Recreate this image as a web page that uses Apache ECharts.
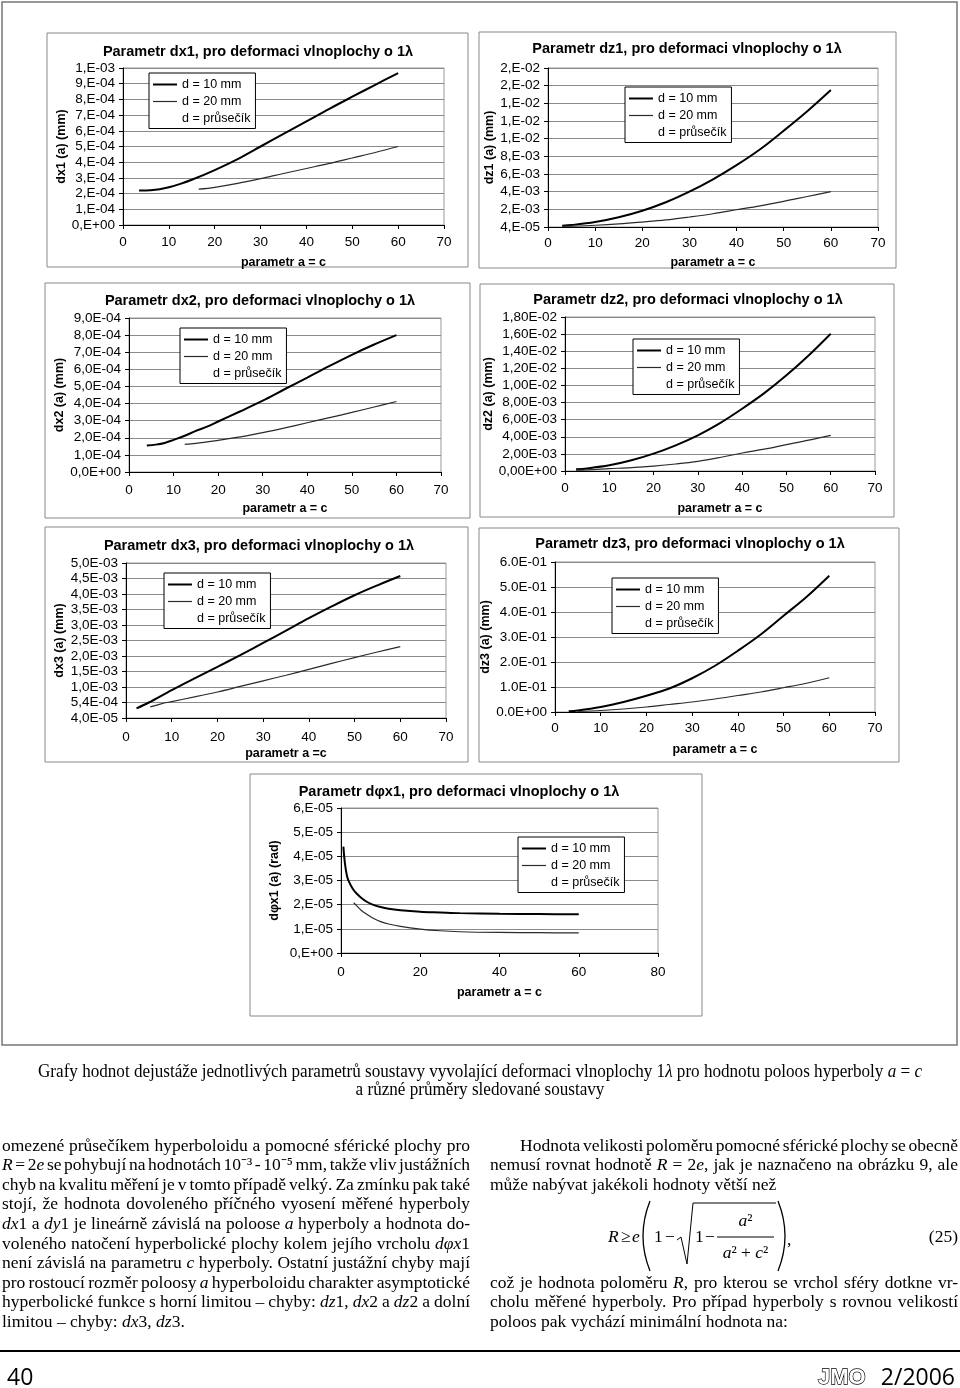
<!DOCTYPE html>
<html><head><meta charset="utf-8">
<script src="https://cdn.jsdelivr.net/npm/echarts@6/dist/echarts.min.js"></script>
<style>html,body{margin:0;padding:0;background:#fff}#c{width:960px;height:1388px}</style>
</head><body><div id="c"></div>
<script>
// ---------------- DATA ----------------
const seriesNames = ['d = 10 mm', 'd = 20 mm', 'd = průsečík'];
const chartTitles = [
  'Parametr dx1, pro deformaci vlnoplochy o 1λ',
  'Parametr dz1, pro deformaci vlnoplochy o 1λ',
  'Parametr dx2, pro deformaci vlnoplochy o 1λ',
  'Parametr dz2, pro deformaci vlnoplochy o 1λ',
  'Parametr dx3, pro deformaci vlnoplochy o 1λ',
  'Parametr dz3, pro deformaci vlnoplochy o 1λ',
  'Parametr dφx1, pro deformaci vlnoplochy o 1λ'
];
const yNames = ['dx1 (a) (mm)', 'dz1 (a) (mm)', 'dx2 (a) (mm)', 'dz2 (a) (mm)', 'dx3 (a) (mm)', 'dz3 (a) (mm)', 'dφx1 (a) (rad)'];
const xNames = ['parametr a = c', 'parametr a = c', 'parametr a = c', 'parametr a = c', 'parametr a =c', 'parametr a = c', 'parametr a = c'];
const xMax  = [70, 70, 70, 70, 70, 70, 80];
const xStep = [10, 10, 10, 10, 10, 10, 20];
const yMax  = [1e-3, 0.018, 9e-4, 0.018, 5e-3, 0.6, 6e-5];
const yStep = [1e-4, 0.002, 1e-4, 0.002, 5e-4, 0.1, 1e-5];

const yTicks_dx1 = ['1,E-03','9,E-04','8,E-04','7,E-04','6,E-04','5,E-04','4,E-04','3,E-04','2,E-04','1,E-04','0,E+00'];
const yTicks_dz1 = ['2,E-02','2,E-02','1,E-02','1,E-02','1,E-02','8,E-03','6,E-03','4,E-03','2,E-03','4,E-05'];
const yTicks_dx2 = ['9,0E-04','8,0E-04','7,0E-04','6,0E-04','5,0E-04','4,0E-04','3,0E-04','2,0E-04','1,0E-04','0,0E+00'];
const yTicks_dz2 = ['1,80E-02','1,60E-02','1,40E-02','1,20E-02','1,00E-02','8,00E-03','6,00E-03','4,00E-03','2,00E-03','0,00E+00'];
const yTicks_dx3 = ['5,0E-03','4,5E-03','4,0E-03','3,5E-03','3,0E-03','2,5E-03','2,0E-03','1,5E-03','1,0E-03','5,4E-04','4,0E-05'];
const yTicks_dz3 = ['6.0E-01','5.0E-01','4.0E-01','3.0E-01','2.0E-01','1.0E-01','0.0E+00'];
const yTicks_dfx1 = ['6,E-05','5,E-05','4,E-05','3,E-05','2,E-05','1,E-05','0,E+00'];

const dx1_d10 = [[3.5,2.2e-4],[6,2.22e-4],[8,2.28e-4],[10,2.4e-4],[12.5,2.62e-4],[15,2.88e-4],[20,3.5e-4],[25,4.2e-4],[30,5.0e-4],[35,5.8e-4],[40,6.6e-4],[45,7.4e-4],[50,8.17e-4],[55,8.93e-4],[60,9.68e-4]];
const dx1_d20 = [[16.5,2.28e-4],[20,2.4e-4],[25,2.65e-4],[30,2.95e-4],[35,3.28e-4],[40,3.6e-4],[45,3.92e-4],[50,4.27e-4],[55,4.62e-4],[60,5.0e-4]];
const dz1_d10 = [[3,1.5e-4],[5,2.2e-4],[10,5.6e-4],[15,1.1e-3],[20,1.84e-3],[25,2.8e-3],[30,4.0e-3],[35,5.4e-3],[40,7.0e-3],[45,8.8e-3],[50,10.9e-3],[55,13.1e-3],[60,15.5e-3]];
const dz1_d20 = [[3,0.8e-4],[5,1.0e-4],[10,2.0e-4],[15,3.5e-4],[20,5.6e-4],[25,8.0e-4],[30,1.13e-3],[35,1.5e-3],[40,1.95e-3],[45,2.4e-3],[50,2.9e-3],[55,3.45e-3],[60,4.0e-3]];
const dx2_d10 = [[4,1.55e-4],[6,1.6e-4],[8,1.7e-4],[10,1.88e-4],[12.5,2.12e-4],[15,2.4e-4],[17.5,2.65e-4],[20,2.95e-4],[25,3.55e-4],[30,4.17e-4],[35,4.85e-4],[40,5.52e-4],[45,6.2e-4],[50,6.85e-4],[55,7.45e-4],[60,8.0e-4]];
const dx2_d20 = [[12.5,1.62e-4],[15,1.67e-4],[20,1.85e-4],[25,2.05e-4],[30,2.3e-4],[35,2.58e-4],[40,2.88e-4],[45,3.18e-4],[50,3.48e-4],[55,3.8e-4],[60,4.12e-4]];
const dz2_d10 = [[2.5,2.0e-4],[5,3.0e-4],[10,6.6e-4],[15,1.25e-3],[20,2.03e-3],[25,3.0e-3],[30,4.17e-3],[35,5.6e-3],[40,7.28e-3],[45,9.1e-3],[50,11.18e-3],[55,13.5e-3],[60,16.05e-3]];
const dz2_d20 = [[2.5,1.0e-4],[5,1.3e-4],[10,2.7e-4],[15,4.0e-4],[20,5.8e-4],[25,8.2e-4],[30,1.13e-3],[35,1.58e-3],[40,2.1e-3],[45,2.55e-3],[50,3.08e-3],[55,3.6e-3],[60,4.17e-3]];
const dx3_d10 = [[2.3,3.1e-4],[5,5.0e-4],[10,9.0e-4],[15,1.28e-3],[20,1.65e-3],[25,2.03e-3],[30,2.42e-3],[35,2.82e-3],[40,3.22e-3],[45,3.6e-3],[50,3.96e-3],[55,4.28e-3],[60,4.58e-3]];
const dx3_d20 = [[5.3,3.6e-4],[7.5,4.5e-4],[10,5.3e-4],[15,6.8e-4],[20,8.4e-4],[25,1.02e-3],[30,1.2e-3],[35,1.38e-3],[40,1.57e-3],[45,1.76e-3],[50,1.95e-3],[55,2.13e-3],[60,2.3e-3]];
const dz3_d10 = [[3,0.003],[5,0.006],[10,0.02],[15,0.04],[20,0.065],[25,0.094],[30,0.135],[35,0.185],[40,0.245],[45,0.31],[50,0.385],[55,0.46],[60,0.545]];
const dz3_d20 = [[5,0.002],[10,0.006],[15,0.012],[20,0.02],[25,0.03],[30,0.04],[35,0.052],[40,0.066],[45,0.08],[50,0.097],[55,0.115],[60,0.137]];
const dfx1_d10 = [[0.6,4.4e-5],[1,3.7e-5],[1.5,3.2e-5],[2,2.95e-5],[3,2.65e-5],[4,2.45e-5],[5,2.3e-5],[6.5,2.12e-5],[8,2.0e-5],[10,1.9e-5],[12,1.83e-5],[15,1.77e-5],[20,1.71e-5],[25,1.68e-5],[30,1.65e-5],[40,1.62e-5],[50,1.61e-5],[60,1.6e-5]];
const dfx1_d20 = [[3.2,2.08e-5],[4,1.95e-5],[5,1.78e-5],[6.5,1.6e-5],[8,1.45e-5],[10,1.3e-5],[12,1.2e-5],[15,1.1e-5],[20,0.99e-5],[25,0.92e-5],[30,0.88e-5],[40,0.85e-5],[50,0.84e-5],[60,0.83e-5]];

const yTickLabels = [yTicks_dx1, yTicks_dz1, yTicks_dx2, yTicks_dz2, yTicks_dx3, yTicks_dz3, yTicks_dfx1];
const seriesData = [[dx1_d10, dx1_d20], [dz1_d10, dz1_d20], [dx2_d10, dx2_d20], [dz2_d10, dz2_d20], [dx3_d10, dx3_d20], [dz3_d10, dz3_d20], [dfx1_d10, dfx1_d20]];

const captionLines = [
  'Grafy hodnot dejustáže jednotlivých parametrů soustavy  vyvolající  deformaci vlnoplochy 1_λ_  pro hodnotu poloos hyperboly _a_ = _c_',
  'a různé průměry sledované soustavy'
];
const leftColumn = [
  'omezené průsečíkem hyperboloidu a pomocné sférické plochy pro',
  '_R_ = 2_e_ se pohybují na hodnotách 10⁻³ - 10⁻⁵ mm, takže vliv justážních',
  'chyb na kvalitu měření je v tomto případě velký. Za zmínku pak také',
  'stojí, že hodnota dovoleného příčného vyosení měřené hyperboly',
  '_dx_1 a _dy_1 je lineárně závislá na poloose _a_ hyperboly a hodnota do-',
  'voleného natočení hyperbolické plochy kolem jejího vrcholu _dφx_1',
  'není závislá na parametru _c_ hyperboly. Ostatní justážní chyby mají',
  'pro rostoucí rozměr poloosy _a_ hyperboloidu charakter asymptotické',
  'hyperbolické funkce s horní limitou – chyby: _dz_1, _dx_2 a _dz_2 a dolní',
  'limitou – chyby: _dx_3, _dz_3.'
];
const rightColumnTop = [
  'Hodnota velikosti poloměru pomocné sférické plochy se obecně',
  'nemusí rovnat hodnotě _R_ = 2_e_, jak je naznačeno na obrázku 9, ale',
  'může nabývat jakékoli hodnoty větší než'
];
const rightColumnBottom = [
  'což je hodnota poloměru _R_, pro kterou se vrchol sféry dotkne vr-',
  'cholu měřené hyperboly. Pro případ hyperboly s rovnou velikostí',
  'poloos pak vychází minimální hodnota na:'
];
const pageNumber = '40';
const journal = 'JMO';
const issue = '2/2006';
const equationNo = '(25)';

// ---------------- LAYOUT ----------------
const layout = [
  {grid:{left:123,top:68,width:321,height:157}, box:[47,33,421,234], title:[258,53], legend:[149,73], yGap:55, xGap:31, xMargin:10},
  {grid:{left:548,top:68,width:330,height:159}, box:[479,32,417,236], title:[687,50], legend:[625,87], yGap:51, xGap:29, xMargin:9},
  {grid:{left:129,top:318,width:312,height:154}, box:[45,283,425,235], title:[260,302], legend:[180,328], yGap:61, xGap:30, xMargin:11},
  {grid:{left:565,top:317,width:310,height:154}, box:[480,284,414,233], title:[688,301], legend:[633,339], yGap:66, xGap:31, xMargin:10},
  {grid:{left:126,top:563,width:320,height:155}, box:[45,527,423,235], title:[259,547], legend:[164,573], yGap:60, xGap:29, xMargin:12},
  {grid:{left:555,top:562,width:320,height:150}, box:[479,528,420,234], title:[690,545], legend:[612,578], yGap:58, xGap:31, xMargin:9},
  {grid:{left:341,top:808,width:317,height:145}, box:[250,774,452,242], title:[459,793], legend:[518,837], yGap:60, xGap:33, xMargin:12}
];
const SANS = '"Liberation Sans", Arial, sans-serif';
const SERIF = '"Liberation Serif", "Times New Roman", serif';

// ---------------- TEXT HELPERS ----------------
const mctx = document.createElement('canvas').getContext('2d');
function fontStr(it, size) { return (it ? 'italic ' : '') + size + 'px ' + SERIF; }
function parseLine(s) {
  const words = []; let cur = []; let it = false; let buf = '';
  const flush = () => { if (buf) { cur.push({t: buf, i: it}); buf = ''; } };
  for (const ch of s) {
    if (ch === '_') { flush(); it = !it; }
    else if (ch === ' ') { flush(); if (cur.length) { words.push(cur); cur = []; } }
    else buf += ch;
  }
  flush(); if (cur.length) words.push(cur);
  return words;
}
function measureWords(words, size) {
  return words.map(w => w.map(p => { mctx.font = fontStr(p.i, size); return mctx.measureText(p.t).width; }));
}
function textEl(x, y, t, font, align) {
  return {type:'text', x:x, y:y, silent:true, style:{text:t, font:font, fill:'#000', align:align||'left', textAlign:align||'left', verticalAlign:'middle', textVerticalAlign:'middle'}};
}
function textLine(els, s, x0, x1, y, size, justify, align) {
  const words = parseLine(s);
  mctx.font = fontStr(false, size);
  const sp = mctx.measureText(' ').width;
  const ws = measureWords(words, size);
  const wW = ws.map(a => a.reduce((q, v) => q + v, 0));
  const total = wW.reduce((q, v) => q + v, 0);
  let gap = sp;
  if (justify && words.length > 1) gap = Math.max(1.5, (x1 - x0 - total) / (words.length - 1));
  let x = x0;
  const full = total + gap * (words.length - 1);
  if (align === 'center') x = (x0 + x1) / 2 - full / 2;
  if (align === 'right') x = x1 - full;
  words.forEach((w, wi) => {
    let px = x;
    w.forEach((p, pi) => { els.push(textEl(px, y, p.t, fontStr(p.i, size))); px += ws[wi][pi]; });
    x += wW[wi] + gap;
  });
}
function scaledLine(els, s, cx, y, size, scale) {
  const words = parseLine(s);
  mctx.font = fontStr(false, size);
  const sp = mctx.measureText(' ').width;
  const ws = measureWords(words, size);
  const wW = ws.map(a => a.reduce((q, v) => q + v, 0));
  const full = wW.reduce((q, v) => q + v, 0) + sp * (words.length - 1);
  const children = [];
  let x = 0;
  words.forEach((w, wi) => {
    let px = x;
    w.forEach((p, pi) => { children.push(textEl(px, 0, p.t, fontStr(p.i, size))); px += ws[wi][pi]; });
    x += wW[wi] + sp;
  });
  els.push({type:'group', x: cx - full * scale / 2, y: y, scaleX: scale, children: children});
}
function naturalWidth(s, size) {
  const words = parseLine(s);
  mctx.font = fontStr(false, size);
  const sp = mctx.measureText(' ').width;
  const ws = measureWords(words, size);
  return ws.reduce((q, a) => q + a.reduce((r, v) => r + v, 0), 0) + sp * (words.length - 1);
}

// ---------------- GRAPHIC (frames, text) ----------------
const g = [];
g.push({type:'rect', silent:true, shape:{x:2, y:2, width:955, height:1043}, style:{fill:'none', stroke:'#777', lineWidth:1.5}});
layout.forEach(L => g.push({type:'rect', silent:true, shape:{x:L.box[0], y:L.box[1], width:L.box[2], height:L.box[3]}, style:{fill:'none', stroke:'#888', lineWidth:1}}));

const capSize = 18;
const capScale = 884 / naturalWidth(captionLines[0], capSize);
scaledLine(g, captionLines[0], 480, 1072, capSize, capScale);
scaledLine(g, captionLines[1], 480, 1090, capSize, capScale);

const BODY = 17.5, LH = 19.6, Y0 = 1146;
leftColumn.forEach((l, i) => textLine(g, l, 2, 470, Y0 + i * LH, BODY, i < leftColumn.length - 1));
rightColumnTop.forEach((l, i) => textLine(g, l, i === 0 ? 520 : 490, 958, Y0 + i * LH, BODY, i < 2));
rightColumnBottom.forEach((l, i) => textLine(g, l, 490, 958, Y0 + (7 + i) * LH, BODY, i < 2));

// equation (25)
const EY = 1237, ES = 17.5;
const eqPieces = [['_R_', 608], ['≥', 621], ['_e_', 632], ['1', 654], ['−', 665], ['1', 695], ['−', 705]];
eqPieces.forEach(p => textLine(g, p[0], p[1], p[1] + 20, EY, ES, false));
g.push({type:'bezierCurve', silent:true, shape:{x1:650, y1:1201, x2:650, y2:1271, cpx1:636, cpy1:1236}, style:{stroke:'#000', lineWidth:1.3, fill:'none'}});
g.push({type:'polyline', silent:true, shape:{points:[[677,1240],[681,1237],[687,1264],[693,1203],[776,1203]]}, style:{stroke:'#000', lineWidth:1, fill:'none'}});
textLine(g, '_a_²', 717, 774, 1221, ES, false, 'center');
g.push({type:'line', silent:true, shape:{x1:717, y1:1237, x2:774, y2:1237}, style:{stroke:'#000', lineWidth:1}});
textLine(g, '_a_² + _c_²', 717, 774, 1253, ES, false, 'center');
g.push({type:'bezierCurve', silent:true, shape:{x1:778, y1:1201, x2:778, y2:1271, cpx1:792, cpy1:1236}, style:{stroke:'#000', lineWidth:1.3, fill:'none'}});
textLine(g, ',', 787, 793, EY + 3, ES, false);
textLine(g, equationNo, 900, 958, EY, ES, false, 'right');

// footer
g.push({type:'line', silent:true, shape:{x1:0, y1:1351, x2:960, y2:1351}, style:{stroke:'#000', lineWidth:2}});
g.push({type:'text', x:7, y:1378, silent:true, style:{text:pageNumber, font:'23px "Open Sans", "Liberation Sans", sans-serif', fill:'#000', verticalAlign:'middle', textVerticalAlign:'middle'}});
g.push({type:'text', x:955, y:1378, silent:true, style:{text:issue, font:'23px "Open Sans", "Liberation Sans", sans-serif', fill:'#000', align:'right', textAlign:'right', verticalAlign:'middle', textVerticalAlign:'middle'}});
g.push({type:'text', x:818, y:1378, silent:true, style:{text:journal, font:'bold 22px "Liberation Sans", sans-serif', fill:'#fff', stroke:'#000', lineWidth:1.3, verticalAlign:'middle', textVerticalAlign:'middle'}});

// ---------------- CHART OPTION ----------------
const grids = [], xAxes = [], yAxes = [], titles = [], legends = [], series = [];
const legendData = [
  {name: seriesNames[0], icon: 'path://M0,6 L24,6 L24,8 L0,8 Z', itemStyle: {color: '#000'}},
  {name: seriesNames[1], icon: 'path://M0,6.4 L24,6.4 L24,7.6 L0,7.6 Z', itemStyle: {color: '#2a2a2a'}},
  {name: seriesNames[2], icon: 'none'}
];
layout.forEach((L, i) => {
  grids.push(Object.assign({show:true, borderColor:'#999', borderWidth:1, backgroundColor:'#fff', containLabel:false, outerBoundsMode:'none'}, L.grid));
  xAxes.push({type:'value', gridIndex:i, min:0, max:xMax[i], interval:xStep[i],
    name:xNames[i], nameLocation:'middle', nameGap:L.xGap,
    nameTextStyle:{fontWeight:'bold', fontSize:12.5, fontFamily:SANS, color:'#000'},
    axisLine:{show:true, onZero:false, lineStyle:{color:'#000', width:1}},
    axisTick:{show:true, inside:false, length:4, lineStyle:{color:'#000'}},
    axisLabel:{color:'#000', fontSize:13.5, fontFamily:SANS, margin:L.xMargin, showMinLabel:true, showMaxLabel:true},
    splitLine:{show:false}});
  const labels = yTickLabels[i], step = yStep[i];
  yAxes.push({type:'value', gridIndex:i, min:0, max:yMax[i], interval:step,
    name:yNames[i], nameLocation:'middle', nameGap:L.yGap, nameRotate:90,
    nameTextStyle:{fontWeight:'bold', fontSize:12.5, fontFamily:SANS, color:'#000'},
    axisLine:{show:true, onZero:false, lineStyle:{color:'#000', width:1}},
    axisTick:{show:true, inside:false, length:4, lineStyle:{color:'#000'}},
    axisLabel:{color:'#000', fontSize:13.5, fontFamily:SANS, margin:8, showMinLabel:true, showMaxLabel:true,
      formatter: v => { const k = Math.round(v / step); return labels[labels.length - 1 - k] || ''; }},
    splitLine:{show:true, lineStyle:{color:'#8a8a8a', width:1}}});
  titles.push({text:chartTitles[i], left:L.title[0], top:L.title[1] - 9, textAlign:'center', padding:0,
    textStyle:{fontSize:14.5, fontWeight:'bold', fontFamily:SANS, color:'#000'}});
  legends.push({left:L.legend[0], top:L.legend[1], orient:'vertical', data:legendData,
    backgroundColor:'#fff', borderColor:'#000', borderWidth:1, padding:[5,5,3,4], itemGap:4,
    itemWidth:24, itemHeight:14, textStyle:{fontSize:12.5, fontFamily:SANS, color:'#000'}, selectedMode:false});
  const [d10, d20] = seriesData[i];
  series.push({type:'line', name:seriesNames[0], xAxisIndex:i, yAxisIndex:i, data:d10, symbol:'none', smooth:0.35,
    lineStyle:{color:'#000', width:2}, itemStyle:{color:'#000'}, emphasis:{disabled:true}, silent:true, z:3});
  series.push({type:'line', name:seriesNames[1], xAxisIndex:i, yAxisIndex:i, data:d20, symbol:'none', smooth:0.35,
    lineStyle:{color:'#2a2a2a', width:1.2}, itemStyle:{color:'#2a2a2a'}, emphasis:{disabled:true}, silent:true, z:3});
  series.push({type:'line', name:seriesNames[2], xAxisIndex:i, yAxisIndex:i, data:[], symbol:'none',
    lineStyle:{color:'rgba(0,0,0,0)', width:1}, itemStyle:{color:'rgba(0,0,0,0)'}, emphasis:{disabled:true}, silent:true});
});

const chart = echarts.init(document.getElementById('c'), null, {renderer:'canvas'});
chart.setOption({
  animation:false,
  backgroundColor:'#fff',
  textStyle:{fontFamily:SANS},
  title:titles, legend:legends, grid:grids, xAxis:xAxes, yAxis:yAxes, series:series,
  graphic:{elements:g}
});
</script></body></html>
